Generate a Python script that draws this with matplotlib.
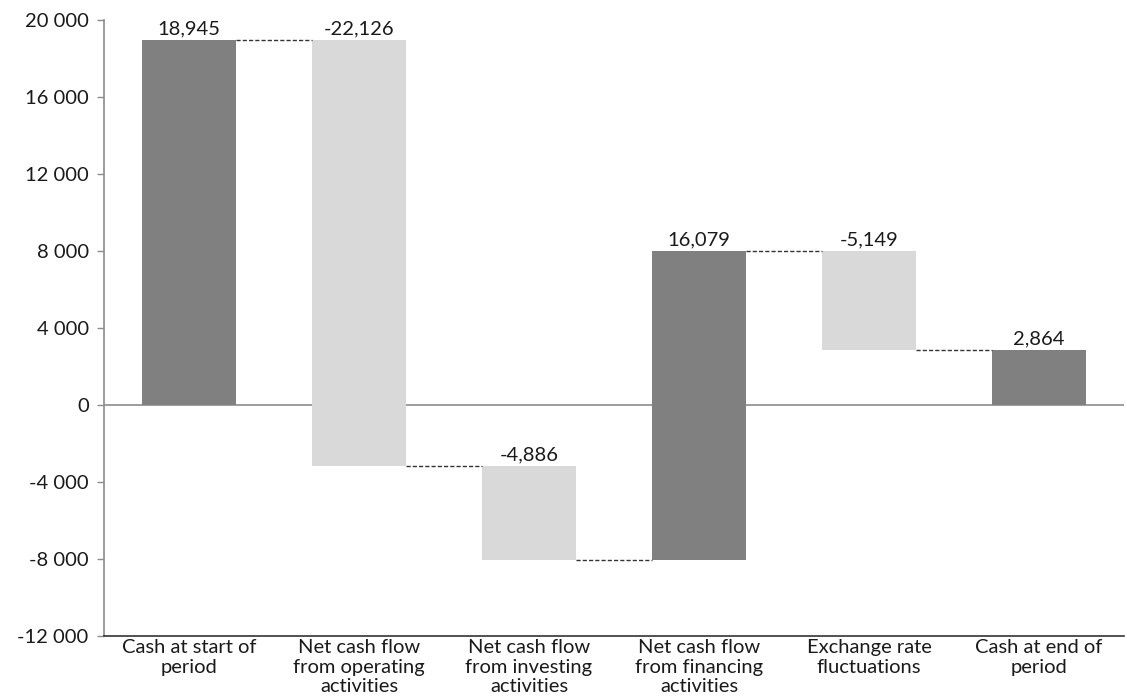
import matplotlib
matplotlib.use("Agg")
import matplotlib.pyplot as plt
from matplotlib.ticker import FuncFormatter

# data
categories = ["Cash at start of\nperiod",
              "Net cash flow\nfrom operating\nactivities",
              "Net cash flow\nfrom investing\nactivities",
              "Net cash flow\nfrom financing\nactivities",
              "Exchange rate\nfluctuations",
              "Cash at end of\nperiod"]
changes = [18945, -22126, -4886, 16079, -5149, 2864]
labels = ["18,945", "-22,126", "-4,886", "16,079", "-5,149", "2,864"]

plt.rcParams['font.family'] = ['Lato', 'DejaVu Sans']

dark = "#808080"
light = "#d9d9d9"
fs = 14.5

fig = plt.figure(figsize=(11.27, 7), dpi=100)
ax = fig.add_axes([104 / 1127, 64 / 700, 1020 / 1127, 616 / 700])

# compute bottoms / tops of the waterfall
running = 0
bottoms, heights, colors = [], [], []
for i, v in enumerate(changes):
    if i == 0:
        bottoms.append(0)
        heights.append(v)
        running = v
        colors.append(dark)
    elif i == len(changes) - 1:
        bottoms.append(0)
        heights.append(v)
        colors.append(dark)
    else:
        bottoms.append(running)
        heights.append(v)
        running += v
        colors.append(dark if v > 0 else light)

width = 0.55
x = list(range(len(categories)))
ax.bar(x, heights, bottom=bottoms, width=width, color=colors, zorder=2)

# connectors
for i in range(len(x) - 1):
    level = bottoms[i] + heights[i]
    ax.plot([x[i] + width / 2, x[i + 1] - width / 2], [level, level],
            color="#333333", linestyle=(0, (3, 1.5)), linewidth=1.0, zorder=3)

# value labels
for i in x:
    top = max(bottoms[i], bottoms[i] + heights[i])
    ax.text(x[i], top + 150, labels[i], ha="center", va="bottom",
            fontsize=fs, color="#1a1a1a")

ax.axhline(0, color="#8c8c8c", linewidth=1.2, zorder=1)

ax.set_xlim(-0.5, 5.5)
ax.set_ylim(-12000, 20000)
ax.set_yticks(range(-12000, 20001, 4000))
ax.yaxis.set_major_formatter(FuncFormatter(
    lambda v, p: f"{int(v):,}".replace(",", " ")))
ax.set_xticks(x)
ax.set_xticklabels(categories, fontsize=fs, color="#1a1a1a", linespacing=1.2)
ax.tick_params(axis="x", length=0, pad=2)
ax.tick_params(axis="y", labelsize=fs, labelcolor="#1a1a1a",
               color="#8c8c8c", length=5, width=1, pad=6)

for s in ["top", "right"]:
    ax.spines[s].set_visible(False)
ax.spines["left"].set_color("#8c8c8c")
ax.spines["left"].set_linewidth(1.2)
ax.spines["bottom"].set_color("#333333")
ax.spines["bottom"].set_linewidth(1.2)

fig.savefig("out.png", dpi=100)
